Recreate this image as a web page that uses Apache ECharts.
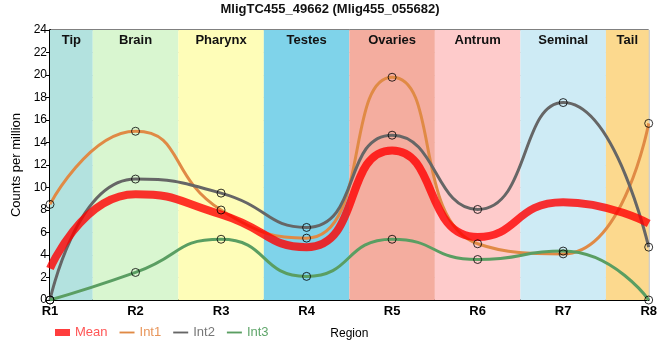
<!DOCTYPE html>
<html>
<head>
<meta charset="utf-8">
<script src="https://cdn.jsdelivr.net/npm/echarts@6/dist/echarts.min.js"></script>
<style>html,body{margin:0;padding:0;background:#fff}#c{width:660px;height:360px}</style>
</head>
<body>
<div id="c"></div>
<script>
var categories = ['R1','R2','R3','R4','R5','R6','R7','R8'];
var meanVals = [2.8, 9.4, 7.6, 4.7, 13.3, 5.6, 8.7, 6.8];
var int1Vals = [8.5, 15.0, 8.0, 5.5, 19.8, 5.0, 4.1, 15.7];
var int2Vals = [0.0, 10.75, 9.5, 6.45, 14.65, 8.05, 17.55, 4.7];
var int3Vals = [0.0, 2.45, 5.4, 2.1, 5.4, 3.6, 4.35, 0.0];
var bandNames = ['Tip','Brain','Pharynx','Testes','Ovaries','Antrum','Seminal','Tail'];
var bandStarts = [0, 0.5, 1.5, 2.5, 3.5, 4.5, 5.5, 6.5];
var bandEnds = [0.5, 1.5, 2.5, 3.5, 4.5, 5.5, 6.5, 7];
var bandColors = ['#b3e2df','#d9f6d0','#fefdb8','#7fd3ea','#f4ad9f','#fecbcb','#ceebf5','#fcd98e'];
var yTicks = [0, 24, 2];

function pts(arr){ return arr.map(function(v,i){ return [i, v]; }); }

var bands = bandNames.map(function(n, i){
  return [{name: n, xAxis: bandStarts[i], itemStyle: {color: bandColors[i]}}, {xAxis: bandEnds[i]}];
});

var FF = 'Liberation Sans, Arial, sans-serif';
var symStyle = {color: 'rgba(0,0,0,0)', borderColor: '#000', borderWidth: 1};
var SM = 0.55;

var chart = echarts.init(document.getElementById('c'), null, {renderer: 'canvas'});
chart.setOption({
  animation: false,
  title: {text: 'MligTC455_49662 (Mlig455_055682)', left: 'center', top: 1, padding: [2, 5],
    textStyle: {fontFamily: FF, fontSize: 13, fontWeight: 'bold', color: '#111'}},
  grid: {left: 50, right: 10, top: 30, bottom: 60, show: true, borderColor: '#000', borderWidth: 1, backgroundColor: 'transparent'},
  legend: {
    left: 55, top: 326, padding: 0, itemWidth: 15, itemHeight: 7, itemGap: 12,
    textStyle: {fontFamily: FF, fontSize: 13},
    data: [
      {name: 'Mean', icon: 'rect', textStyle: {color: '#f55'}},
      {name: 'Int1', icon: 'path://M0,0 L16,0 L16,2 L0,2 Z', textStyle: {color: '#e8955a'}},
      {name: 'Int2', icon: 'path://M0,0 L16,0 L16,2 L0,2 Z', textStyle: {color: '#777'}},
      {name: 'Int3', icon: 'path://M0,0 L16,0 L16,2 L0,2 Z', textStyle: {color: '#5fa66a'}}
    ]
  },
  xAxis: {
    type: 'value', min: 0, max: 7, interval: 1,
    name: 'Region', nameLocation: 'middle', nameGap: 28,
    nameTextStyle: {fontFamily: FF, fontSize: 12, color: '#000'},
    axisLine: {lineStyle: {color: '#000', width: 2}},
    axisTick: {show: false},
    axisLabel: {formatter: function(v){ return categories[v] || ''; }, fontFamily: FF, fontSize: 13, fontWeight: 'bold', color: '#000', margin: 5},
    splitLine: {show: true, lineStyle: {color: '#ccc', width: 1}}
  },
  yAxis: {
    type: 'value', min: yTicks[0], max: yTicks[1], interval: yTicks[2],
    name: 'Counts per million', nameLocation: 'middle', nameGap: 25,
    nameTextStyle: {fontFamily: FF, fontSize: 13, color: '#000'},
    axisLine: {show: true, lineStyle: {color: '#000', width: 2}},
    axisTick: {show: true, length: 4, lineStyle: {color: '#000'}},
    axisLabel: {fontFamily: FF, fontSize: 12, color: '#000', margin: 3},
    splitLine: {show: true, lineStyle: {color: '#ccc', width: 1}}
  },
  series: [
    {name: 'Mean', type: 'line', smooth: SM, data: pts(meanVals), showSymbol: false, symbol: 'none', z: 5,
      lineStyle: {color: 'rgba(255,0,0,0.8)', width: 8}, itemStyle: {color: 'rgba(255,40,40,0.9)'},
      markArea: {silent: true, data: bands,
        label: {show: true, position: 'insideTop', distance: 4, fontFamily: FF, fontSize: 13, fontWeight: 'bold', color: '#111'}}},
    {name: 'Int1', type: 'line', smooth: SM, data: pts(int1Vals), showSymbol: false, z: 4,
      lineStyle: {color: '#e08a45', width: 3}, itemStyle: {color: '#e08a45'}, emphasis: {disabled: true}},
    {name: 'Int2', type: 'line', smooth: SM, data: pts(int2Vals), showSymbol: false, z: 4,
      lineStyle: {color: '#666', width: 3}, itemStyle: {color: '#666'}, emphasis: {disabled: true}},
    {name: 'Int3', type: 'line', smooth: SM, data: pts(int3Vals), showSymbol: false, z: 4,
      lineStyle: {color: '#5a9e62', width: 3}, itemStyle: {color: '#5a9e62'}, emphasis: {disabled: true}},
    {name: 'Int1pts', type: 'scatter', data: pts(int1Vals), symbol: 'circle', symbolSize: 8, z: 10, itemStyle: symStyle, silent: true},
    {name: 'Int2pts', type: 'scatter', data: pts(int2Vals), symbol: 'circle', symbolSize: 8, z: 10, itemStyle: symStyle, silent: true},
    {name: 'Int3pts', type: 'scatter', data: pts(int3Vals), symbol: 'circle', symbolSize: 8, z: 10, itemStyle: symStyle, silent: true}
  ]
});
</script>
</body>
</html>
